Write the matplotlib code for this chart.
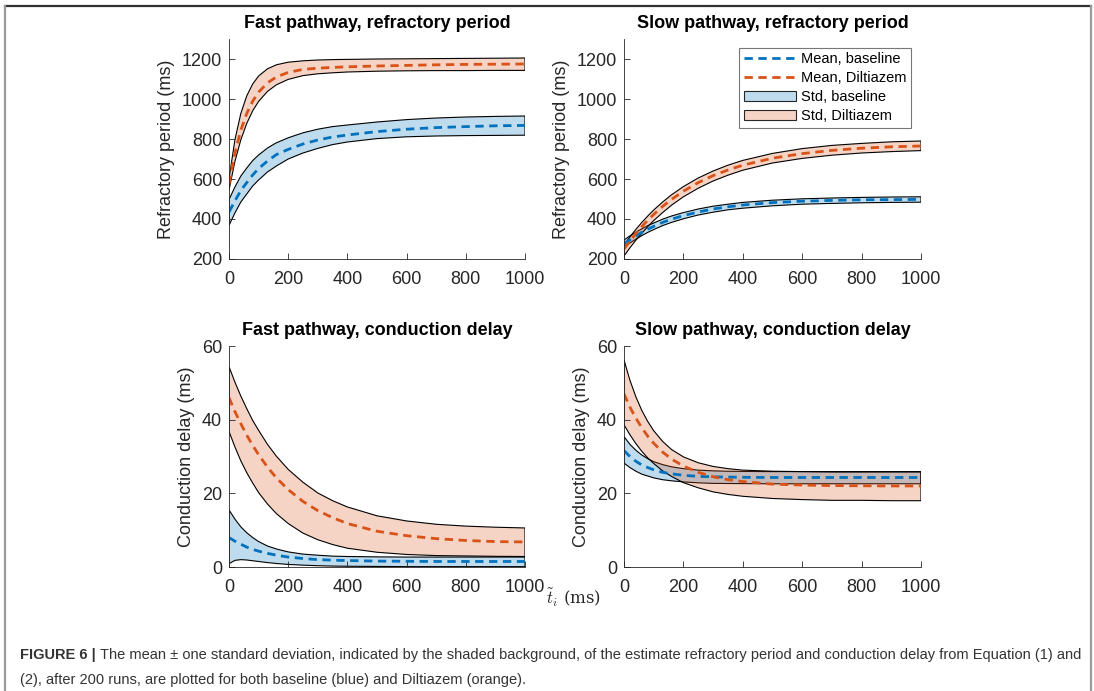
import matplotlib
matplotlib.use('Agg')
import matplotlib.pyplot as plt
from matplotlib.lines import Line2D
from matplotlib.patches import Patch
import numpy as np

plt.rcParams['font.family'] = ['Liberation Sans', 'DejaVu Sans']
plt.rcParams['mathtext.fontset'] = 'cm'

t = [0, 20, 40, 60, 80, 100, 130, 160, 200, 250, 300, 350, 400, 500, 600, 700, 800, 900, 1000]

# Fast pathway, refractory period (ms)
fast_rp_base_mean = [435, 490, 543, 582, 620, 652, 690, 722, 748, 775, 795, 810, 820, 837, 849, 857, 862, 866, 868]
fast_rp_base_up = [497, 560, 615, 655, 692, 720, 755, 781, 806, 831, 849, 862, 870, 885, 897, 905, 910, 913, 915]
fast_rp_base_lo = [368, 430, 485, 525, 565, 595, 635, 665, 700, 730, 753, 772, 785, 802, 811, 815, 817, 818, 819]
fast_rp_dil_mean = [575, 730, 844, 928, 989, 1034, 1081, 1110, 1133, 1148, 1154, 1158, 1161, 1165, 1168, 1171, 1173, 1174, 1175]
fast_rp_dil_up = [600, 796, 928, 1016, 1075, 1115, 1151, 1171, 1184, 1191, 1195, 1197, 1198, 1200, 1201, 1202, 1203, 1204, 1205]
fast_rp_dil_lo = [545, 688, 796, 878, 941, 988, 1038, 1071, 1098, 1117, 1126, 1131, 1135, 1139, 1141, 1142, 1142, 1143, 1143]

# Slow pathway, refractory period (ms)
slow_rp_base_mean = [275, 296, 316, 333, 349, 363, 383, 399, 417, 435, 450, 461, 470, 482, 489, 493, 496, 497, 498]
slow_rp_base_up = [295, 316, 334, 351, 367, 380, 399, 415, 432, 450, 464, 474, 483, 494, 501, 505, 508, 510, 511]
slow_rp_base_lo = [258, 280, 299, 317, 333, 347, 367, 383, 401, 420, 434, 446, 454, 466, 474, 478, 481, 483, 484]
slow_rp_dil_mean = [250, 290, 328, 362, 394, 423, 463, 498, 539, 582, 617, 645, 669, 704, 727, 743, 754, 761, 765]
slow_rp_dil_up = [270, 311, 348, 383, 415, 445, 485, 521, 562, 605, 640, 669, 693, 728, 752, 768, 778, 786, 790]
slow_rp_dil_lo = [215, 256, 294, 329, 362, 392, 432, 469, 511, 554, 590, 619, 644, 680, 703, 719, 730, 737, 742]

# Fast pathway, conduction delay (ms)
fast_cd_base_mean = [8.0, 7.0, 6.2, 5.4, 4.8, 4.3, 3.7, 3.2, 2.7, 2.3, 2.0, 1.85, 1.75, 1.6, 1.55, 1.5, 1.5, 1.5, 1.5]
fast_cd_base_up = [15.5, 13.0, 10.9, 9.3, 8.0, 6.9, 5.7, 4.9, 4.1, 3.5, 3.2, 2.95, 2.85, 2.75, 2.7, 2.7, 2.7, 2.7, 2.7]
fast_cd_base_lo = [0.9, 1.8, 2.0, 1.9, 1.7, 1.5, 1.2, 0.95, 0.7, 0.5, 0.35, 0.25, 0.2, 0.15, 0.1, 0.1, 0.1, 0.1, 0.1]
fast_cd_dil_mean = [46, 42.2, 38.9, 35.8, 33.0, 30.5, 27.1, 24.2, 21.0, 17.8, 15.3, 13.4, 11.8, 9.7, 8.5, 7.7, 7.2, 6.9, 6.8]
fast_cd_dil_up = [54.4, 50.2, 46.4, 43.0, 39.8, 37.1, 33.3, 30.1, 26.5, 23.0, 20.1, 18.0, 16.3, 13.9, 12.5, 11.6, 11.1, 10.8, 10.6]
fast_cd_dil_lo = [36.8, 32.6, 28.8, 25.6, 22.8, 20.2, 17.1, 14.5, 11.8, 9.2, 7.4, 6.1, 5.1, 4.0, 3.4, 3.1, 3.0, 2.9, 2.85]

# Slow pathway, conduction delay (ms)
slow_cd_base_mean = [31.6, 30.0, 28.7, 27.7, 27.0, 26.4, 25.7, 25.3, 24.9, 24.6, 24.5, 24.4, 24.35, 24.3, 24.3, 24.3, 24.3, 24.3, 24.3]
slow_cd_base_up = [35.4, 33.3, 31.7, 30.4, 29.4, 28.6, 27.8, 27.2, 26.7, 26.3, 26.1, 26.0, 25.95, 25.9, 25.9, 25.9, 25.9, 25.9, 25.9]
slow_cd_base_lo = [28.2, 27.0, 26.0, 25.2, 24.7, 24.2, 23.7, 23.4, 23.1, 22.85, 22.7, 22.67, 22.64, 22.6, 22.6, 22.6, 22.6, 22.6, 22.6]
slow_cd_dil_mean = [47, 43.4, 40.4, 37.8, 35.5, 33.6, 31.2, 29.3, 27.4, 25.7, 24.5, 23.7, 23.2, 22.5, 22.25, 22.1, 22.05, 22.0, 22.0]
slow_cd_dil_up = [56.2, 50.7, 46.2, 42.5, 39.5, 37.0, 34.1, 31.9, 29.9, 28.3, 27.3, 26.7, 26.3, 26.0, 25.9, 25.8, 25.8, 25.8, 25.8]
slow_cd_dil_lo = [38.6, 35.9, 33.5, 31.4, 29.6, 28.1, 26.1, 24.6, 22.9, 21.5, 20.4, 19.7, 19.2, 18.6, 18.3, 18.1, 18.1, 18.0, 18.0]

blue = (0.0, 0.447, 0.741)
orange = (0.85, 0.325, 0.098)
text_col = '#262626'

fig = plt.figure(figsize=(10.94, 6.91), dpi=100)

W, H = 1094.0, 691.0
def ax_at(x0, x1, y0, y1):
    return fig.add_axes([x0 / W, 1 - y1 / H, (x1 - x0) / W, (y1 - y0) / H])

panels = [
    (ax_at(229, 525, 39, 259), 'Fast pathway, refractory period', 'Refractory period (ms)', (200, 1300),
     fast_rp_base_mean, fast_rp_base_up, fast_rp_base_lo, fast_rp_dil_mean, fast_rp_dil_up, fast_rp_dil_lo),
    (ax_at(624, 921, 39, 259), 'Slow pathway, refractory period', 'Refractory period (ms)', (200, 1300),
     slow_rp_base_mean, slow_rp_base_up, slow_rp_base_lo, slow_rp_dil_mean, slow_rp_dil_up, slow_rp_dil_lo),
    (ax_at(229, 525, 346, 567), 'Fast pathway, conduction delay', 'Conduction delay (ms)', (0, 60),
     fast_cd_base_mean, fast_cd_base_up, fast_cd_base_lo, fast_cd_dil_mean, fast_cd_dil_up, fast_cd_dil_lo),
    (ax_at(624, 921, 346, 567), 'Slow pathway, conduction delay', 'Conduction delay (ms)', (0, 60),
     slow_cd_base_mean, slow_cd_base_up, slow_cd_base_lo, slow_cd_dil_mean, slow_cd_dil_up, slow_cd_dil_lo),
]

for ax, title, ylab, ylim, bm, bu, bl, dm, du, dl in panels:
    # means first, std bands drawn over them (as in the original)
    ax.plot(t, bm, color=blue, lw=2.0, dashes=(3, 2))
    ax.plot(t, dm, color=orange, lw=2.0, dashes=(3, 2))
    ax.fill(t + t[::-1], bu + bl[::-1], facecolor=blue, alpha=0.25, edgecolor='none')
    ax.fill(t + t[::-1], bu + bl[::-1], facecolor='none', edgecolor='black', lw=0.8)
    ax.fill(t + t[::-1], du + dl[::-1], facecolor=orange, alpha=0.25, edgecolor='none')
    ax.fill(t + t[::-1], du + dl[::-1], facecolor='none', edgecolor='black', lw=0.8)

    ax.set_xlim(0, 1000)
    ax.set_ylim(*ylim)
    ax.set_xticks([0, 200, 400, 600, 800, 1000])
    if ylim[1] > 100:
        ax.set_yticks([200, 400, 600, 800, 1000, 1200])
    else:
        ax.set_yticks([0, 20, 40, 60])
    ax.spines['top'].set_visible(False)
    ax.spines['right'].set_visible(False)
    for s in ('left', 'bottom'):
        ax.spines[s].set_color(text_col)
        ax.spines[s].set_linewidth(0.6)
    ax.tick_params(direction='in', length=4, width=0.6, color=text_col,
                   labelsize=13, labelcolor=text_col, pad=5)
    ax.tick_params(axis='x', pad=9)
    ax.set_title(title, fontsize=13, fontweight='bold', pad=8)
    ax.set_ylabel(ylab, fontsize=13, color=text_col, labelpad=5)

# legend on the slow pathway refractory panel
handles = [
    Line2D([], [], color=blue, lw=2.0, dashes=(3, 2)),
    Line2D([], [], color=orange, lw=2.0, dashes=(3, 2)),
    Patch(facecolor=(0.75, 0.86, 0.935), edgecolor=text_col, lw=0.8),
    Patch(facecolor=(0.96, 0.83, 0.775), edgecolor=text_col, lw=0.8),
]
leg = panels[1][0].legend(handles, ['Mean, baseline', 'Mean, Diltiazem', 'Std, baseline', 'Std, Diltiazem'],
                          loc='upper right', bbox_to_anchor=(0.965, 0.96), fontsize=10.5,
                          fancybox=False, framealpha=1, edgecolor='#777777',
                          handlelength=3.6, handletextpad=0.3, labelspacing=0.35,
                          borderpad=0.3, borderaxespad=0)
leg.get_frame().set_linewidth(0.8)

# shared x label, sits right of the bottom-left panel's last tick label
fig.text(574 / W, 1 - 598 / H, r'$\tilde{t}_i$ (ms)', ha='center', va='center', fontsize=12,
         family='serif', math_fontfamily='cm', color=text_col)

# outer frame of the figure panel
fig.add_artist(Line2D([5 / W, 1091 / W], [1 - 6 / H, 1 - 6 / H], color='#303030', lw=1.6))
fig.add_artist(Line2D([5 / W, 5 / W], [1 - 6 / H, 0], color='#9a9a9a', lw=1.6))
fig.add_artist(Line2D([1091 / W, 1091 / W], [1 - 6 / H, 0], color='#9a9a9a', lw=1.6))

# caption
cap_font = ['Liberation Sans', 'DejaVu Sans']
bold = fig.text(20 / W, 1 - 655 / H, 'FIGURE 6 |', fontsize=10.5, fontweight='bold',
                family=cap_font, color='#333333', va='center')
fig.canvas.draw()
bb = bold.get_window_extent(renderer=fig.canvas.get_renderer())
fig.text((bb.x1 + 4) / W, 1 - 655 / H,
         'The mean \u00b1 one standard deviation, indicated by the shaded background, of the estimate '
         'refractory period and conduction delay from Equation (1) and',
         fontsize=10.5, family=cap_font, color='#333333', va='center')
fig.text(20 / W, 1 - 680 / H,
         '(2), after 200 runs, are plotted for both baseline (blue) and Diltiazem (orange).',
         fontsize=10.5, family=cap_font, color='#333333', va='center')

fig.savefig('out.png', dpi=100)
